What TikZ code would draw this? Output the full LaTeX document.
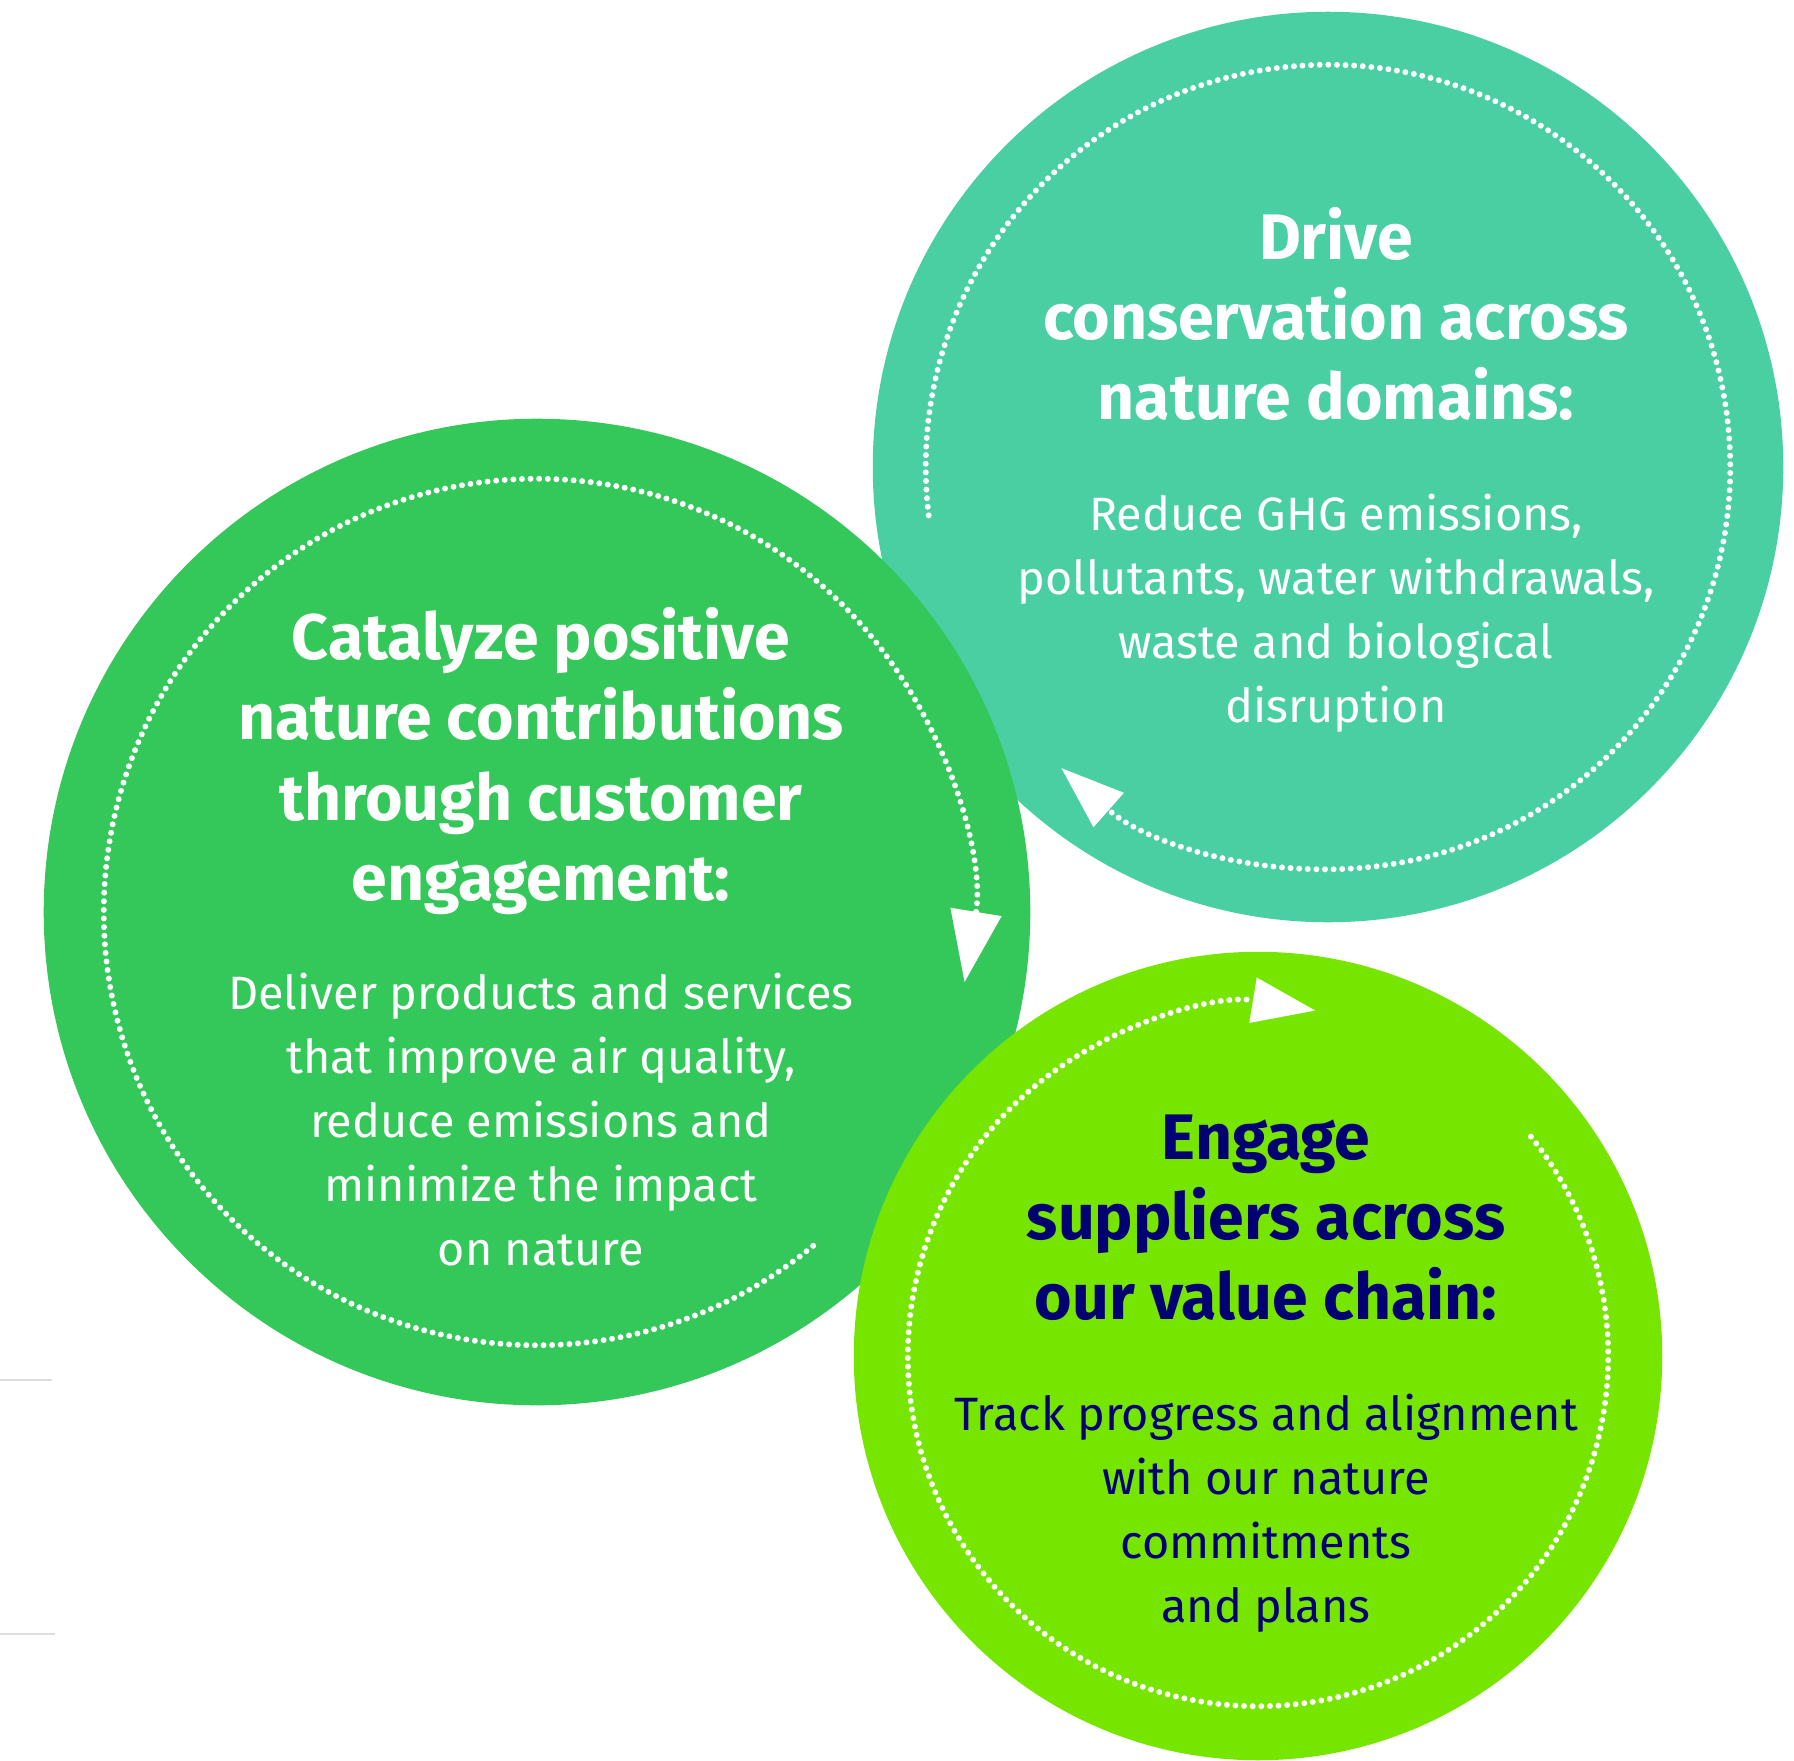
\documentclass[tikz,border=0pt]{standalone}
\usepackage{fontspec}
\setmainfont{Fira Sans}
\usetikzlibrary{arrows.meta, positioning}
\definecolor{drivec}{HTML}{49CFA1}
\definecolor{catalyzec}{HTML}{34C759}
\definecolor{engagec}{HTML}{76E600}
\definecolor{navyc}{HTML}{000073}
\definecolor{rulec}{HTML}{DDDDDD}

\begin{document}
\begin{tikzpicture}[
        x=0.01cm, y=-0.01cm,
        disc/.style={circle, inner sep=0pt, minimum size=#1},
        head/.style={font=\bfseries\fontsize{18.3}{22.8}\selectfont, align=center},
        body/.style={font=\fontsize{13.3}{18.2}\selectfont, align=center},
        ring/.style={white, line width=1.7pt, line cap=round, dash pattern=on 0pt off 2.45pt},
        tip/.style={-{Triangle[length=#1, width=0.73*#1, line width=0pt]}}
      ]
        \useasboundingbox (0,0) rectangle (1794,1760);

        % side rules
        \draw[rulec, line width=0.6pt] (0,1380) -- (52,1380);
        \draw[rulec, line width=0.6pt] (0,1634) -- (55,1634);

        % circles, back to front
        \node[disc=9.10cm, fill=drivec] (drive) at (1328,467) {};
        \draw[ring, tip=0.63cm] (drive.center) ++(186.9:4.02cm)
            arc[start angle=186.9, end angle=-131.5, radius=4.02cm];
        \node[disc=9.86cm, fill=catalyzec] (catalyze) at (537,912) {};
        \draw[ring, tip=0.71cm] (catalyze.center) ++(-50.4:4.33cm)
            arc[start angle=-50.4, end angle=-369.3, radius=4.33cm];
        \node[disc=8.08cm, fill=engagec] (engage) at (1258,1356) {};
        \draw[ring, tip=0.63cm] (engage.center) ++(38.8:3.50cm)
            arc[start angle=38.8, end angle=-279.4, radius=3.50cm];

        % texts
        \node[head, text=white] (drivetitle) at (1336,314) {Drive\\conservation across\\nature domains:};
        \node[body, text=white] (drivetext) at (1336,613) {Reduce GHG emissions,\\pollutants, water withdrawals,\\waste and biological\\disruption};
        \node[head, text=white] (catalyzetitle) at (541,761) {Catalyze positive\\nature contributions\\through customer\\engagement:};
        \node[body, text=white] (catalyzetext) at (541,1120) {Deliver products and services\\that improve air quality,\\reduce emissions and\\minimize the impact\\on nature};
        \node[head, text=navyc] (engagetitle) at (1266,1218) {Engage\\suppliers across\\our value chain:};
        \node[body, text=navyc] (engagetext) at (1266,1513) {Track progress and alignment\\with our nature\\commitments\\and plans};
    \end{tikzpicture}
\end{document}
